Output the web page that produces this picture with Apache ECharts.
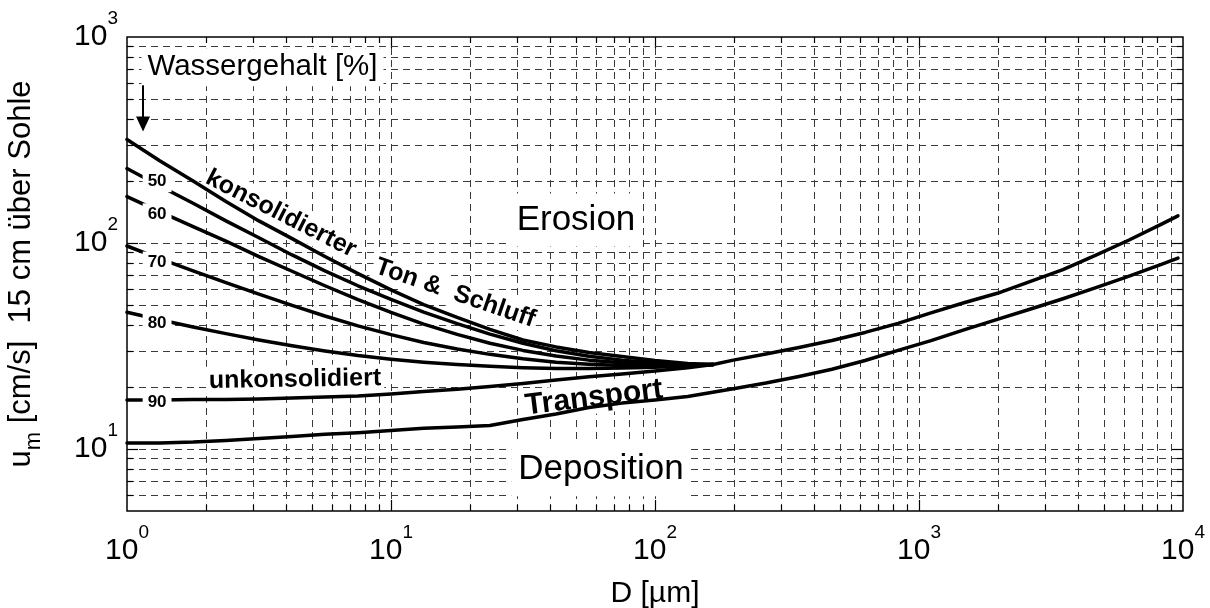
<!DOCTYPE html>
<html>
<head>
<meta charset="utf-8">
<script src="https://cdn.jsdelivr.net/npm/echarts@6.0.0/dist/echarts.min.js"></script>
<style>
  html, body { margin: 0; padding: 0; background: #fff; }
  #chart { width: 1210px; height: 608px; }
</style>
</head>
<body>
<div id="chart"></div>
<script>
// Critical flow velocity u_m (15 cm above the bed) versus grain size D
const FONT = '"Liberation Sans", Arial, Helvetica, sans-serif';

const xTicks = [1, 10, 100, 1000, 10000];
const yTicks = [10, 100, 1000];

// grain sizes [µm] sampled along the cohesive curves
const dCohesive = [1, 1.33, 1.78, 2.37, 3.16, 4.22, 5.62, 7.50, 10.0, 13.3, 17.8, 23.7, 31.6, 42.2, 56.2, 75.0, 100, 133, 166];

// consolidated clay & silt, by water content [%]
const uW40 = [318, 251, 200, 159, 128, 105, 86.0, 71.0, 59.2, 50.2, 43.5, 38.1, 33.8, 31.3, 29.4, 28.1, 26.9, 26.0, 25.7];
const uW50 = [230, 189, 156, 128, 106, 87.5, 73.2, 62.0, 53.2, 46.2, 40.6, 36.1, 32.6, 30.0, 28.2, 27.0, 26.2, 25.7, 25.7];
const uW60 = [168, 142, 120, 102, 85.9, 72.9, 62.0, 53.1, 46.0, 40.4, 36.0, 32.6, 30.1, 28.3, 27.0, 26.2, 25.8, 25.6, 25.7];
const uW70 = [96.7, 83.9, 73.3, 64.2, 56.5, 49.8, 44.2, 39.6, 35.9, 32.9, 30.6, 28.8, 27.4, 26.4, 25.8, 25.4, 25.3, 25.4, 25.7];
const uW80 = [46.1, 42.4, 39.1, 36.3, 33.8, 31.7, 29.9, 28.4, 27.3, 26.4, 25.7, 25.2, 24.8, 24.6, 24.6, 24.7, 24.9, 25.3, 25.7];

// unconsolidated, water content 90 %
const uW90 = [17.3, 17.3, 17.4, 17.4, 17.5, 17.7, 17.9, 18.1, 18.5, 19.0, 19.5, 20.1, 20.8, 21.6, 22.4, 23.1, 23.9, 24.8, 25.7];

// erosion threshold for non-cohesive material
const dErosion = [166, 198, 263, 351, 468, 625, 833, 1110, 1480, 1980, 2630, 3510, 4680, 6250, 8330, 9570];
const uErosion = [25.7, 27.0, 28.9, 31.1, 33.6, 36.8, 40.7, 45.8, 51.3, 57.0, 64.9, 74.3, 87.4, 103.4, 123.8, 135.4];

// deposition threshold
const dDeposition = [1, 1.33, 1.78, 2.37, 3.16, 4.22, 5.62, 7.50, 10.0, 13.3, 17.8, 23.7, 31.6, 42.2, 56.2, 75.0, 100, 133,
  198, 263, 351, 468, 625, 833, 1110, 1480, 1980, 2630, 3510, 4680, 6250, 8330, 9570];
const uDeposition = [10.7, 10.7, 10.8, 11.0, 11.25, 11.5, 11.8, 12.0, 12.3, 12.6, 12.8, 13.0, 13.9, 14.8, 15.9, 16.7, 17.3, 18.0,
  19.6, 20.9, 22.5, 24.4, 26.9, 30.1, 33.6, 37.9, 42.6, 47.7, 53.6, 60.7, 69.0, 79.0, 84.5];

const X_MIN = 1, X_MAX = 10000, Y_MIN = 5, Y_MAX = 1000;

// 1..9 multiples of each decade between lo and hi
function logGrid(lo, hi) {
  const vals = [];
  for (let dec = 1; dec < hi; dec *= 10) {
    for (let k = 1; k <= 9; k++) {
      const v = k * dec;
      if (v >= lo && v <= hi) vals.push(v);
    }
  }
  if (vals[vals.length - 1] !== hi) vals.push(hi);
  return vals;
}
const xGrid = logGrid(X_MIN, X_MAX);
const yGrid = logGrid(Y_MIN, Y_MAX);

function isDecade(v) {
  const lg = Math.log10(v);
  return Math.abs(lg - Math.round(lg)) < 1e-9;
}

// dashed grid lines plus inward ticks on all four frame sides
function gridRenderer(vertical) {
  return function (params, api) {
    const cs = params.coordSys;
    const v = api.value(vertical ? 0 : 1);
    const p = api.coord(vertical ? [v, Y_MIN] : [X_MIN, v]);
    const len = isDecade(v) ? 11 : 6;
    const dash = { stroke: '#3a3a3a', lineWidth: 1, lineDash: [7, 5], fill: null };
    const tick = { stroke: '#000', lineWidth: 1.2, fill: null };
    const children = [];
    if (vertical) {
      const x = Math.round(p[0]) + 0.5;
      const yb = cs.y + cs.height, yt = cs.y;
      if (x > cs.x + 2 && x < cs.x + cs.width - 2) {
        children.push({ type: 'line', shape: { x1: x, y1: yb, x2: x, y2: yt }, style: dash });
        children.push({ type: 'line', shape: { x1: x, y1: yb, x2: x, y2: yb - len }, style: tick });
        children.push({ type: 'line', shape: { x1: x, y1: yt, x2: x, y2: yt + len }, style: tick });
      }
    } else {
      const y = Math.round(p[1]) + 0.5;
      const xl = cs.x, xr = cs.x + cs.width;
      if (y > cs.y + 2 && y < cs.y + cs.height - 2) {
        children.push({ type: 'line', shape: { x1: xl, y1: y, x2: xr, y2: y }, style: dash });
        children.push({ type: 'line', shape: { x1: xl, y1: y, x2: xl + len, y2: y }, style: tick });
        children.push({ type: 'line', shape: { x1: xr, y1: y, x2: xr - len, y2: y }, style: tick });
      }
    }
    return { type: 'group', children: children };
  };
}

function curve(name, ds, us) {
  return {
    name: name,
    type: 'line',
    data: ds.map(function (d, i) { return [d, us[i]]; }),
    showSymbol: false,
    symbol: 'none',
    smooth: false,
    lineStyle: { color: '#000', width: 3.5, cap: 'round', join: 'round' },
    z: 3,
    silent: true
  };
}

function powerLabel(v) {
  if (!isDecade(v)) return '';
  return '{b|10}{s|' + Math.round(Math.log10(v)) + '}';
}

const chart = echarts.init(document.getElementById('chart'), null, { renderer: 'canvas' });

const option = {
  animation: false,
  backgroundColor: '#fff',
  textStyle: { fontFamily: FONT },
  grid: {
    left: 127, top: 37, width: 1056, height: 474,
    show: true, borderColor: '#000', borderWidth: 1.5, backgroundColor: '#fff',
    containLabel: false, outerBoundsMode: 'none'
  },
  xAxis: {
    type: 'log', logBase: 10, min: X_MIN, max: X_MAX,
    axisLine: { show: false }, axisTick: { show: false },
    splitLine: { show: false }, minorTick: { show: false }, minorSplitLine: { show: false },
    axisLabel: {
      showMinLabel: true, showMaxLabel: true, margin: 12,
      formatter: powerLabel,
      rich: {
        b: { fontSize: 30, fontFamily: FONT, color: '#000', padding: [13, 0, 0, 0] },
        s: { fontSize: 19, fontFamily: FONT, color: '#000', verticalAlign: 'top' }
      }
    },
    name: 'D [µm]', nameLocation: 'middle', nameGap: 68,
    nameTextStyle: { fontSize: 30, fontFamily: FONT, color: '#000' }
  },
  yAxis: {
    type: 'log', logBase: 10, min: Y_MIN, max: Y_MAX,
    axisLine: { show: false }, axisTick: { show: false },
    splitLine: { show: false }, minorTick: { show: false }, minorSplitLine: { show: false },
    axisLabel: {
      showMinLabel: true, showMaxLabel: true, margin: 9,
      formatter: powerLabel,
      rich: {
        b: { fontSize: 30, fontFamily: FONT, color: '#000', padding: [13, 0, 13, 0] },
        s: { fontSize: 19, fontFamily: FONT, color: '#000', verticalAlign: 'top' }
      }
    },
    name: '{n|u}{m|m}{n| [cm/s]  15 cm über Sohle}',
    nameLocation: 'middle', nameGap: 82,
    nameTextStyle: {
      rich: {
        n: { fontSize: 31, fontFamily: FONT, color: '#000', verticalAlign: 'top', lineHeight: 33 },
        m: { fontSize: 22, fontFamily: FONT, color: '#000', verticalAlign: 'top', padding: [17, 0, 0, 0] }
      }
    }
  },
  series: [
    {
      name: 'xgrid', type: 'custom', silent: true, z: 1,
      data: xGrid.map(function (v) { return [v, Y_MIN]; }),
      encode: { x: 0, y: 1 },
      renderItem: gridRenderer(true)
    },
    {
      name: 'ygrid', type: 'custom', silent: true, z: 1,
      data: yGrid.map(function (v) { return [X_MIN, v]; }),
      encode: { x: 0, y: 1 },
      renderItem: gridRenderer(false)
    },
    curve('w40', dCohesive, uW40),
    curve('w50', dCohesive, uW50),
    curve('w60', dCohesive, uW60),
    curve('w70', dCohesive, uW70),
    curve('w80', dCohesive, uW80),
    curve('w90', dCohesive, uW90),
    curve('erosion', dErosion, uErosion),
    curve('deposition', dDeposition, uDeposition)
  ]
};

chart.setOption(option);

// text annotations anchored at data coordinates [D, u]
const notes = [
  { text: 'Wassergehalt [%]', at: [3.26, 714], size: 29.5, weight: 'normal', rot: 0, pad: [4, 6, 4, 6], z: 2 },
  { text: 'Erosion', at: [50.2, 129.4], size: 35, weight: 'normal', rot: 0, pad: [8, 7, 10, 7], z: 2 },
  { text: 'Deposition', at: [62.4, 7.94], size: 35, weight: 'normal', rot: 0, pad: [8, 7, 10, 7], z: 2 },
  { text: 'Transport', at: [58.7, 17.7], size: 30, weight: 'bold', rot: 7, pad: [1, 3, 1, 3], z: 2 },
  { text: 'unkonsolidiert', at: [4.33, 21.7], size: 25, weight: 'bold', rot: 1, pad: [2, 3, 2, 3], z: 2 },
  { text: 'konsolidierter', at: [3.83, 138.5], size: 25, weight: 'bold', rot: -27, pad: [2, 3, 2, 3], z: 2 },
  { text: 'Ton &  Schluff', at: [17.5, 57.0], size: 25, weight: 'bold', rot: -19, pad: [2, 3, 2, 3], z: 2 },
  { text: '50', at: [1.30, 198.5], size: 17, weight: 'bold', rot: 0, pad: [2, 5, 2, 5], z: 10 },
  { text: '60', at: [1.30, 138.5], size: 17, weight: 'bold', rot: 0, pad: [2, 5, 2, 5], z: 10 },
  { text: '70', at: [1.30, 80.8], size: 17, weight: 'bold', rot: 0, pad: [2, 5, 2, 5], z: 10 },
  { text: '80', at: [1.30, 40.7], size: 17, weight: 'bold', rot: 0, pad: [2, 5, 2, 5], z: 10 },
  { text: '90', at: [1.30, 16.9], size: 17, weight: 'bold', rot: 0, pad: [2, 5, 2, 5], z: 10 }
];

const graphics = notes.map(function (n) {
  const p = chart.convertToPixel({ gridIndex: 0 }, n.at);
  return {
    type: 'text', x: p[0], y: p[1], rotation: n.rot * Math.PI / 180, z: n.z, silent: true,
    style: {
      text: n.text, fontSize: n.size, fontWeight: n.weight, fontFamily: FONT, fill: '#000',
      align: 'center', verticalAlign: 'middle', backgroundColor: '#fff', padding: n.pad
    }
  };
});

// arrow pointing down to the curve family
const arrowTop = chart.convertToPixel({ gridIndex: 0 }, [1.15, 583]);
const arrowTip = chart.convertToPixel({ gridIndex: 0 }, [1.15, 348]);
graphics.push({
  type: 'line', z: 10, silent: true,
  shape: { x1: arrowTop[0], y1: arrowTop[1], x2: arrowTip[0], y2: arrowTip[1] - 12 },
  style: { stroke: '#000', lineWidth: 2 }
});
graphics.push({
  type: 'polygon', z: 10, silent: true,
  shape: { points: [[arrowTip[0] - 7, arrowTip[1] - 15], [arrowTip[0] + 7, arrowTip[1] - 15], [arrowTip[0], arrowTip[1]]] },
  style: { fill: '#000' }
});

chart.setOption({ graphic: graphics });
</script>
</body>
</html>
